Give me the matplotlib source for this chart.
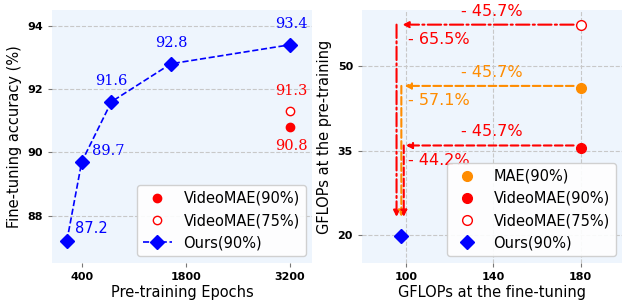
import matplotlib
matplotlib.use("Agg")
import matplotlib.pyplot as plt

# ---- Left panel data ----
epochs = [200, 400, 800, 1600, 3200]
ours_acc = [87.2, 89.7, 91.6, 92.8, 93.4]
vmae90_epoch, vmae90_acc = 3200, 90.8
vmae75_epoch, vmae75_acc = 3200, 91.3
left_xticks = [400, 1800, 3200]
left_yticks = [88, 90, 92, 94]

# ---- Right panel data ----
ft_base = 180
mae90_pt = 46.2
vmae90_pt = 35.5
vmae75_pt = 57.4
ours_ft, ours_pt = 97.7, 19.8
right_xticks = [100, 140, 180]
right_yticks = [20, 35, 50]
ft_drop = "- 45.7%"
pt_drops = ["- 65.5%", "- 57.1%", "- 44.2%"]

BG = "#EEF5FD"
BLUE = "#0000FF"
RED = "#FF0000"
ORANGE = "#FF8C00"

fig = plt.figure(figsize=(6.23, 3.04), dpi=100)
ax1 = fig.add_subplot(1, 2, 1)
ax2 = fig.add_subplot(1, 2, 2)
fig.subplots_adjust(left=0.0835, right=0.9985, bottom=0.135, top=0.967, wspace=0.192)

for ax in (ax1, ax2):
    ax.set_facecolor(BG)
    for s in ax.spines.values():
        s.set_visible(False)
    ax.tick_params(direction="out", length=3, width=0.8, color="#777777", labelsize=8)
    ax.set_axisbelow(True)

# ---------------- Left ----------------
ax1.grid(axis="y", color="#c8c8c8", linestyle="--", linewidth=0.8)
ax1.plot([vmae90_epoch], [vmae90_acc], "o", color=RED, markersize=6, linestyle="none", label="VideoMAE(90%)")
ax1.plot([vmae75_epoch], [vmae75_acc], "o", markerfacecolor="white", markeredgecolor=RED,
         markeredgewidth=1.0, markersize=6, linestyle="none", label="VideoMAE(75%)")
ax1.plot(epochs, ours_acc, "--D", color=BLUE, markersize=7.5, linewidth=1.2, label="Ours(90%)")

lab_offsets = [(8, 12, "left", "sans-serif"), (10, 11, "left", "serif"), (0, 21, "center", "serif"),
               (0, 21, "center", "serif"), (2, 21, "center", "serif")]
for x, y, (dx, dy, ha, fam) in zip(epochs, ours_acc, lab_offsets):
    ax1.annotate(f"{y}", (x, y), xytext=(dx, dy), textcoords="offset pixels",
                 ha=ha, va="center", color=BLUE, fontsize=10.5, family=fam)
ax1.annotate(f"{vmae75_acc}", (vmae75_epoch, vmae75_acc), xytext=(2, 20), textcoords="offset pixels",
             ha="center", va="center", color=RED, fontsize=10.5, family="serif")
ax1.annotate(f"{vmae90_acc}", (vmae90_epoch, vmae90_acc), xytext=(2, -19), textcoords="offset pixels",
             ha="center", va="center", color=RED, fontsize=10.5, family="serif")

ax1.set_xlim(0, 3500)
ax1.set_ylim(86.5, 94.5)
ax1.set_xticks(left_xticks)
ax1.set_yticks(left_yticks)
for t in ax1.get_xticklabels() + ax1.get_yticklabels():
    t.set_fontweight("bold")
ax1.set_xlabel("Pre-training Epochs", fontsize=10.5, labelpad=2)
ax1.set_ylabel("Fine-tuning accuracy (%)", fontsize=10.5, labelpad=4)
ax1.legend(loc="lower right", fontsize=10.5, framealpha=0.9, edgecolor="#cccccc",
           borderaxespad=0.45)

# ---------------- Right ----------------
ax2.grid(True, color="#c8c8c8", linestyle="--", linewidth=0.8)
ax2.plot([ft_base], [mae90_pt], "o", color=ORANGE, markersize=7, linestyle="none", label="MAE(90%)")
ax2.plot([ft_base], [vmae90_pt], "o", color=RED, markersize=7, linestyle="none", label="VideoMAE(90%)")
ax2.plot([ft_base], [vmae75_pt], "o", markerfacecolor="white", markeredgecolor=RED,
         markeredgewidth=1.0, markersize=7, linestyle="none", label="VideoMAE(75%)")
ax2.plot([ours_ft], [ours_pt], "D", color=BLUE, markersize=7.5, linestyle="none", label="Ours(90%)")

# arrows: (start y, horizontal tip x, vertical x, color, linestyle)
arrow_specs = [
    (vmae75_pt, 98.5, 95.8, RED, "-."),
    (mae90_pt + 0.3, 99.5, 98.0, ORANGE, "--"),
    (vmae90_pt + 0.4, 100.0, 99.1, RED, "--"),
]
v_tip = 23.2
for (y, hx, vx, c, ls), drop in zip(arrow_specs, pt_drops):
    ax2.annotate("", xy=(hx, y), xytext=(ft_base, y),
                 arrowprops=dict(arrowstyle="-|>", color=c, linestyle=ls, lw=1.5,
                                 shrinkA=5, shrinkB=0, mutation_scale=9))
    ax2.annotate("", xy=(vx, v_tip), xytext=(vx, y),
                 arrowprops=dict(arrowstyle="-|>", color=c, linestyle=ls, lw=1.5,
                                 shrinkA=0, shrinkB=0, mutation_scale=9))
    ax2.text(139.6, y + 2.4, ft_drop, color=c, fontsize=11.5, ha="center", va="center")
    ax2.text(101.0, y - 2.6, drop, color=c, fontsize=11.5, ha="left", va="center")

ax2.set_xlim(80, 199)
ax2.set_ylim(15, 60)
ax2.set_xticks(right_xticks)
ax2.set_yticks(right_yticks)
for t in ax2.get_xticklabels() + ax2.get_yticklabels():
    t.set_fontweight("bold")
ax2.set_xlabel("GFLOPs at the fine-tuning", fontsize=10.5, labelpad=2)
ax2.set_ylabel("GFLOPs at the pre-training", fontsize=10.5, labelpad=4)
ax2.legend(loc="lower right", fontsize=10.5, framealpha=0.9, edgecolor="#cccccc",
           borderaxespad=0.45)

fig.savefig("out.png", dpi=100)
